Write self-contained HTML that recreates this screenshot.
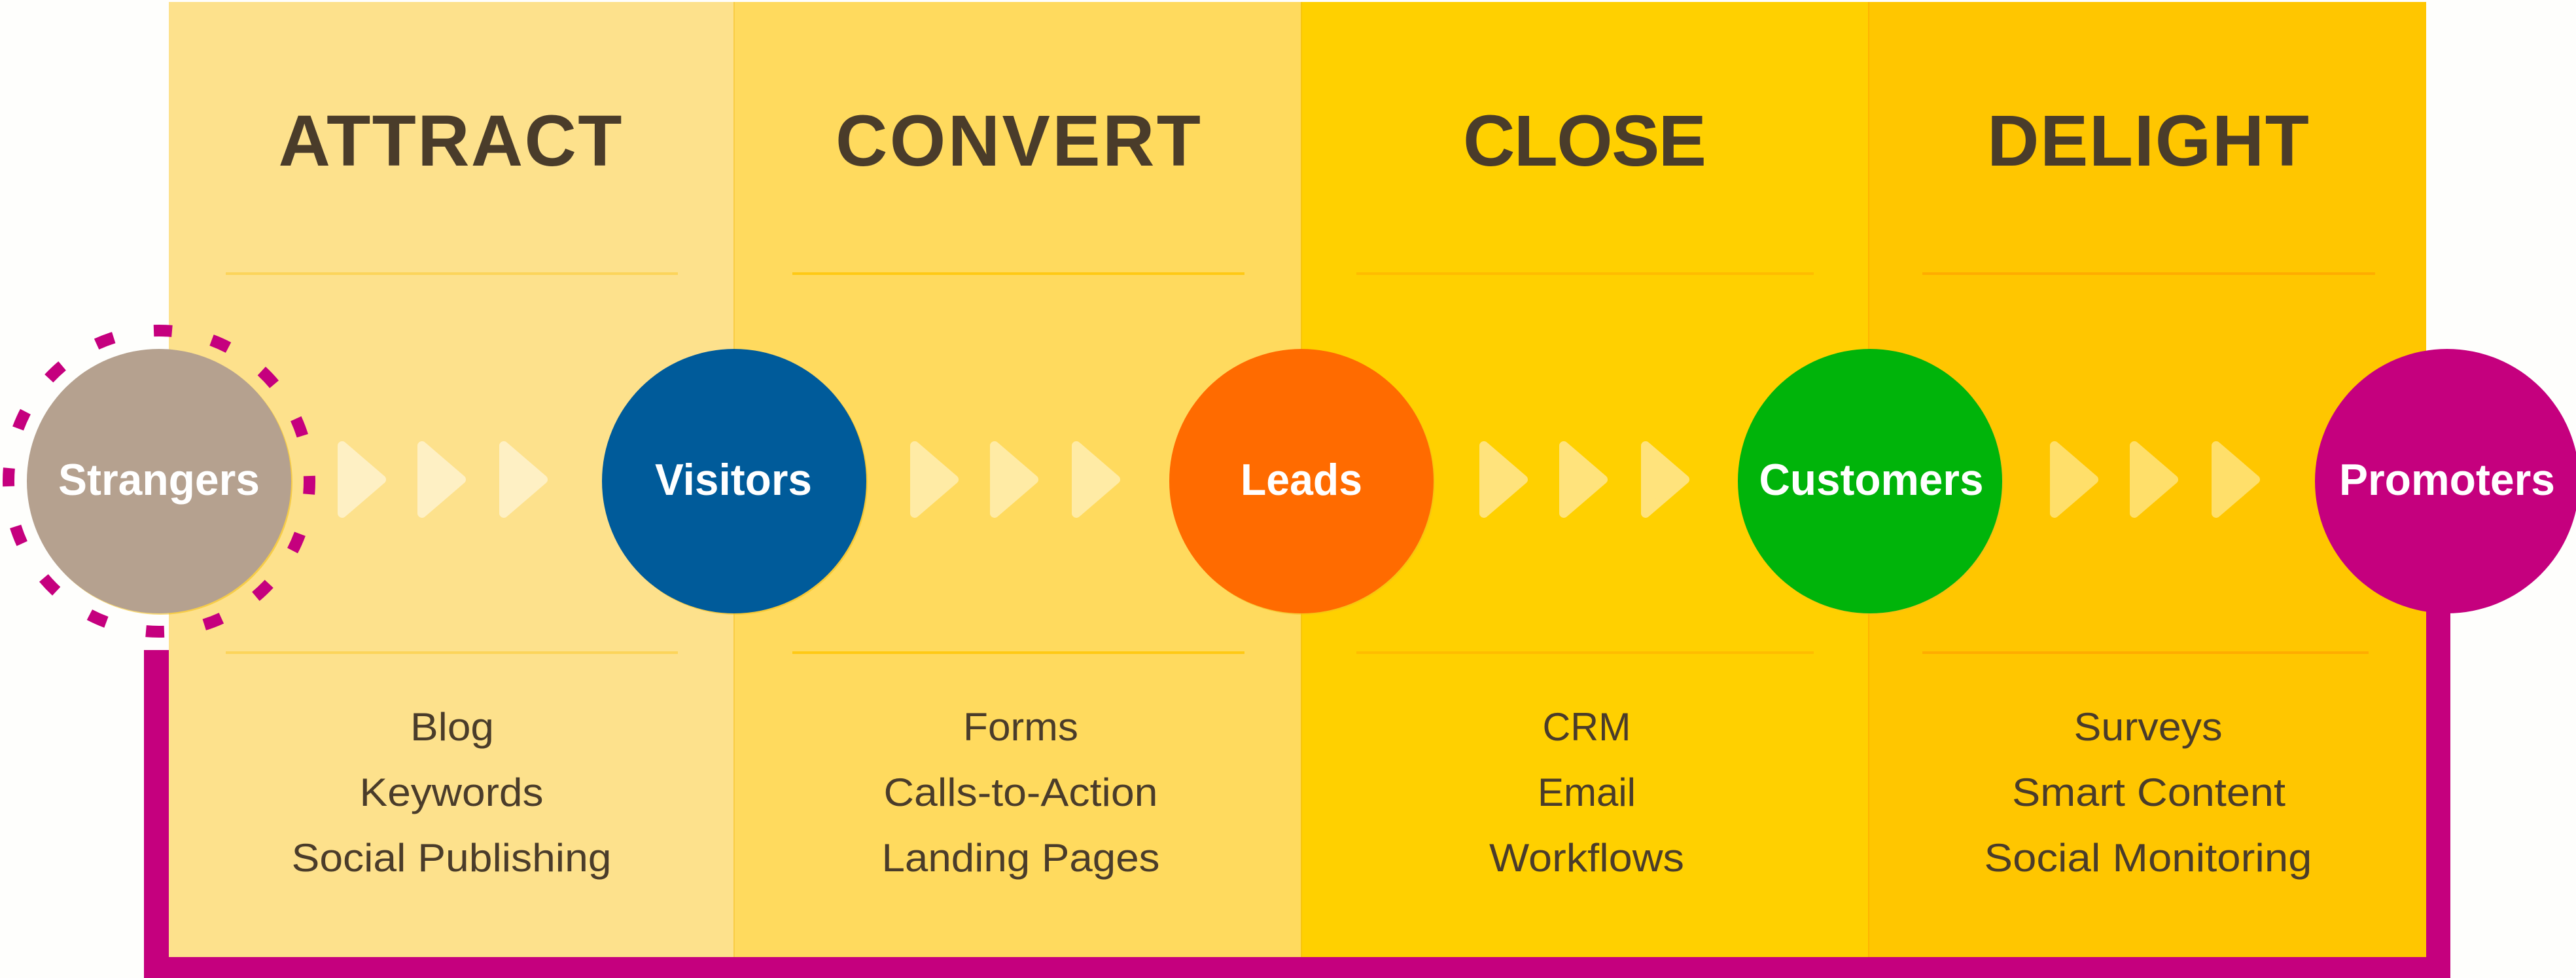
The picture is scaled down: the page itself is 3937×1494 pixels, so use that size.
<!DOCTYPE html>
<html>
<head>
<meta charset="utf-8">
<style>
html,body{margin:0;padding:0;background:#FEFEFC;}
svg{display:block;}
.h{font-family:"Liberation Sans",sans-serif;font-weight:bold;font-size:110px;fill:#4A3C2A;}
.l{font-family:"Liberation Sans",sans-serif;font-weight:bold;font-size:68px;fill:#FFFFFF;}
.t{font-family:"Liberation Sans",sans-serif;font-weight:normal;font-size:60px;fill:#4A3C2A;}
</style>
</head>
<body>
<svg width="3937" height="1494" viewBox="0 0 3937 1494" xmlns="http://www.w3.org/2000/svg">
  <rect x="0" y="0" width="3937" height="1494" fill="#FEFEFC"/>

  <!-- columns -->
  <rect x="258" y="3" width="864" height="1459" fill="#FDE18C"/>
  <rect x="1122" y="3" width="867" height="1459" fill="#FFDA5E"/>
  <rect x="1989" y="3" width="867" height="1459" fill="#FFD000"/>
  <rect x="2856" y="3" width="852" height="1459" fill="#FFC600"/>

  <!-- column boundary lines -->
  <rect x="1121" y="3" width="2" height="1459" fill="#F9CD45"/>
  <rect x="1988" y="3" width="2" height="1459" fill="#F6C510"/>
  <rect x="2855" y="3" width="2" height="1459" fill="#FFB400"/>

  <!-- dividers -->
  <rect x="345" y="416" width="691" height="4" fill="#FCD45A"/>
  <rect x="345" y="995" width="691" height="4" fill="#FCD45A"/>
  <rect x="1211" y="416" width="691" height="4" fill="#FFC914"/>
  <rect x="1211" y="995" width="691" height="4" fill="#FFC914"/>
  <rect x="2073" y="416" width="699" height="4" fill="#FFBC00"/>
  <rect x="2073" y="995" width="699" height="4" fill="#FFBC00"/>
  <rect x="2938" y="416" width="692" height="4" fill="#FFAC00"/>
  <rect x="2938" y="995" width="682" height="4" fill="#FFAC00"/>

  <!-- headings -->
  <text class="h" x="688" y="253" text-anchor="middle" textLength="525" lengthAdjust="spacing">ATTRACT</text>
  <text class="h" x="1556" y="253" text-anchor="middle" textLength="558" lengthAdjust="spacing">CONVERT</text>
  <text class="h" x="2422" y="253" text-anchor="middle" textLength="372" lengthAdjust="spacing">CLOSE</text>
  <text class="h" x="3283" y="253" text-anchor="middle" textLength="492" lengthAdjust="spacing">DELIGHT</text>

  <!-- chevrons -->
  <g stroke-linejoin="round" stroke-width="14">
    <g fill="#FEF0C4" stroke="#FEF0C4">
      <polygon points="523,681 583,732.5 523,784"/>
      <polygon points="645,681 705,732.5 645,784"/>
      <polygon points="770,681 830,732.5 770,784"/>
    </g>
    <g fill="#FFEBA5" stroke="#FFEBA5">
      <polygon points="1398,681 1458,732.5 1398,784"/>
      <polygon points="1520,681 1580,732.5 1520,784"/>
      <polygon points="1645,681 1705,732.5 1645,784"/>
    </g>
    <g fill="#FFE37C" stroke="#FFE37C">
      <polygon points="2268,681 2328,732.5 2268,784"/>
      <polygon points="2390,681 2450,732.5 2390,784"/>
      <polygon points="2515,681 2575,732.5 2515,784"/>
    </g>
    <g fill="#FFDF6A" stroke="#FFDF6A">
      <polygon points="3140,681 3200,732.5 3140,784"/>
      <polygon points="3262,681 3322,732.5 3262,784"/>
      <polygon points="3387,681 3447,732.5 3387,784"/>
    </g>
  </g>

  <!-- magenta frame -->
  <rect x="220" y="993" width="38" height="501" fill="#C5007E"/>
  <rect x="220" y="1462" width="3525" height="32" fill="#C5007E"/>
  <rect x="3708" y="735" width="37" height="759" fill="#C5007E"/>

  <!-- circle shadows -->
  <g fill="#F2BE1A" opacity="0.6">
    <circle cx="245" cy="737" r="202"/>
    <circle cx="1124" cy="737" r="202"/>
    <circle cx="1991" cy="737" r="202"/>
    <circle cx="2860" cy="737" r="202"/>
  </g>

  <!-- circles -->
  <circle cx="243" cy="735" r="202" fill="#B5A18F"/>
  <circle cx="1122" cy="735" r="202" fill="#005B9A"/>
  <circle cx="1989" cy="735" r="202" fill="#FF6B00"/>
  <circle cx="2858" cy="735" r="202" fill="#00B40A"/>
  <circle cx="3740" cy="735" r="202" fill="#C5007E"/>

  <!-- dashed ring -->
  <circle cx="243" cy="735" r="230" fill="none" stroke="#C5007E" stroke-width="18" stroke-dasharray="28 62.3" stroke-dashoffset="8"/>

  <!-- circle labels -->
  <text class="l" x="243" y="756" text-anchor="middle" textLength="308" lengthAdjust="spacingAndGlyphs">Strangers</text>
  <text class="l" x="1121" y="756" text-anchor="middle" textLength="240" lengthAdjust="spacingAndGlyphs">Visitors</text>
  <text class="l" x="1989" y="756" text-anchor="middle" textLength="186" lengthAdjust="spacingAndGlyphs">Leads</text>
  <text class="l" x="2860" y="756" text-anchor="middle" textLength="343" lengthAdjust="spacingAndGlyphs">Customers</text>
  <text class="l" x="3740" y="756" text-anchor="middle" textLength="330" lengthAdjust="spacingAndGlyphs">Promoters</text>

  <!-- lists -->
  <text class="t" x="691" y="1131" text-anchor="middle" textLength="128" lengthAdjust="spacingAndGlyphs">Blog</text>
  <text class="t" x="690" y="1231" text-anchor="middle" textLength="281" lengthAdjust="spacingAndGlyphs">Keywords</text>
  <text class="t" x="690" y="1331" text-anchor="middle" textLength="489" lengthAdjust="spacingAndGlyphs">Social Publishing</text>

  <text class="t" x="1560" y="1131" text-anchor="middle" textLength="176" lengthAdjust="spacingAndGlyphs">Forms</text>
  <text class="t" x="1560" y="1231" text-anchor="middle" textLength="419" lengthAdjust="spacingAndGlyphs">Calls-to-Action</text>
  <text class="t" x="1560" y="1331" text-anchor="middle" textLength="425" lengthAdjust="spacingAndGlyphs">Landing Pages</text>

  <text class="t" x="2425" y="1131" text-anchor="middle" textLength="135" lengthAdjust="spacingAndGlyphs">CRM</text>
  <text class="t" x="2425" y="1231" text-anchor="middle" textLength="150" lengthAdjust="spacingAndGlyphs">Email</text>
  <text class="t" x="2425" y="1331" text-anchor="middle" textLength="298" lengthAdjust="spacingAndGlyphs">Workflows</text>

  <text class="t" x="3283" y="1131" text-anchor="middle" textLength="227" lengthAdjust="spacingAndGlyphs">Surveys</text>
  <text class="t" x="3284" y="1231" text-anchor="middle" textLength="418" lengthAdjust="spacingAndGlyphs">Smart Content</text>
  <text class="t" x="3283" y="1331" text-anchor="middle" textLength="501" lengthAdjust="spacingAndGlyphs">Social Monitoring</text>
</svg>
</body>
</html>
